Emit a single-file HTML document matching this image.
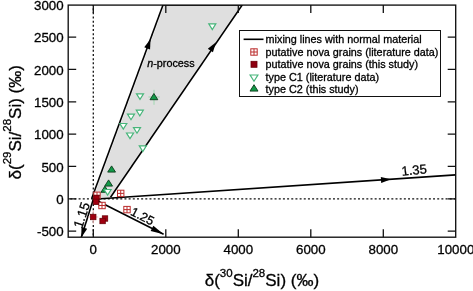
<!DOCTYPE html><html><head><meta charset="utf-8"><style>html,body{margin:0;padding:0;background:#fff;width:473px;height:291px;overflow:hidden}svg{display:block;will-change:transform;font-family:"Liberation Sans",sans-serif}text{stroke:#000;stroke-width:0.3px}</style></head><body>
<svg width="473" height="291" viewBox="0 0 473 291">
<defs><clipPath id="pc"><rect x="68.2" y="5.1" width="387.5" height="232.1"/></clipPath></defs>
<g clip-path="url(#pc)">
<polygon points="92.9,198.8 164.3,5 240.9,5 109.2,197.3" fill="#dfdfdf"/>
<line x1="68.2" y1="198.8" x2="455.7" y2="198.8" stroke="#111" stroke-width="1.3" stroke-dasharray="2 2.17" stroke-dashoffset="2.12"/>
<line x1="93.3" y1="5.1" x2="93.3" y2="237.2" stroke="#111" stroke-width="1.3" stroke-dasharray="2 2.17" stroke-dashoffset="1.14"/>
<line x1="91.6" y1="198.8" x2="163.0" y2="5" stroke="#000" stroke-width="1.6"/>
<line x1="110.5" y1="197.3" x2="242.2" y2="5" stroke="#000" stroke-width="1.6"/>
<line x1="163" y1="5.1" x2="242.2" y2="5.1" stroke="#000" stroke-width="1.4"/>
<line x1="93.3" y1="199.2" x2="455.7" y2="174.9" stroke="#000" stroke-width="1.6"/>
<line x1="93.3" y1="198.8" x2="163.6" y2="234.3" stroke="#000" stroke-width="1.6"/>
<line x1="93.5" y1="198.8" x2="81.3" y2="237.2" stroke="#000" stroke-width="1.6"/>
<polygon points="150.60,39.00 150.05,49.46 144.23,47.31" fill="#000"/>
<polygon points="216.00,42.30 212.91,52.30 207.79,48.80" fill="#000"/>
<polygon points="391.00,179.30 381.22,182.95 380.82,176.97" fill="#000"/>
<polygon points="163.60,234.30 150.64,231.12 153.35,225.76" fill="#000"/>
<polygon points="81.30,237.40 81.47,226.96 87.19,228.78" fill="#000"/>
</g>
<rect x="68.2" y="5.1" width="387.5" height="232.1" fill="none" stroke="#111" stroke-width="1.35"/>
<path d="M68.2,37.13h8M455.7,37.13h-8M68.2,69.47h8M455.7,69.47h-8M68.2,101.80h8M455.7,101.80h-8M68.2,134.13h8M455.7,134.13h-8M68.2,166.47h8M455.7,166.47h-8M68.2,198.80h8M455.7,198.80h-8M68.2,231.13h8M455.7,231.13h-8M93.30,237.2v-8M93.30,5.1v8M165.80,237.2v-8M165.80,5.1v8M238.30,237.2v-8M238.30,5.1v8M310.80,237.2v-8M310.80,5.1v8M383.30,237.2v-8M383.30,5.1v8" stroke="#111" stroke-width="1.3" fill="none"/>
<text x="63.6" y="9.90" font-size="13.3" text-anchor="end">3000</text>
<text x="63.6" y="42.23" font-size="13.3" text-anchor="end">2500</text>
<text x="63.6" y="74.57" font-size="13.3" text-anchor="end">2000</text>
<text x="63.6" y="106.90" font-size="13.3" text-anchor="end">1500</text>
<text x="63.6" y="139.23" font-size="13.3" text-anchor="end">1000</text>
<text x="63.6" y="171.57" font-size="13.3" text-anchor="end">500</text>
<text x="63.6" y="203.90" font-size="13.3" text-anchor="end">0</text>
<text x="63.6" y="236.23" font-size="13.3" text-anchor="end">-500</text>
<text x="93.30" y="254.4" font-size="13.3" text-anchor="middle">0</text>
<text x="165.80" y="254.4" font-size="13.3" text-anchor="middle">2000</text>
<text x="238.30" y="254.4" font-size="13.3" text-anchor="middle">4000</text>
<text x="310.80" y="254.4" font-size="13.3" text-anchor="middle">6000</text>
<text x="383.30" y="254.4" font-size="13.3" text-anchor="middle">8000</text>
<text x="455.80" y="254.4" font-size="13.3" text-anchor="middle">10000</text>
<text x="261.9" y="286.4" font-size="17" text-anchor="middle">δ(<tspan font-size="11.5" dy="-9.3">30</tspan><tspan dy="9.3">Si/</tspan><tspan font-size="11.5" dy="-9.3">28</tspan><tspan dy="9.3">Si) (‰)</tspan></text>
<text transform="translate(20.7,122.3) rotate(-90)" x="0" y="0" font-size="17" text-anchor="middle">δ(<tspan font-size="11.5" dy="-9.3">29</tspan><tspan dy="9.3">Si/</tspan><tspan font-size="11.5" dy="-9.3">28</tspan><tspan dy="9.3">Si) (‰)</tspan></text>
<text x="147.2" y="66.9" font-size="10.8"><tspan font-style="italic">n</tspan>-process</text>
<text transform="translate(402,175.8) rotate(-6)" font-size="13">1.35</text>
<text transform="translate(129.8,214.6) rotate(27)" font-size="12.4">1.25</text>
<text transform="translate(81.9,229) rotate(-71.5)" font-size="13.5">1.15</text>
<g stroke="#bb2c2c" stroke-width="1" fill="#fff"><rect x="117.50" y="190.20" width="6.4" height="6.4"/><path d="M120.70,190.20v6.4M117.50,193.40h6.4"/></g>
<g stroke="#bb2c2c" stroke-width="1" fill="#fff"><rect x="123.80" y="206.40" width="6.4" height="6.4"/><path d="M127.00,206.40v6.4M123.80,209.60h6.4"/></g>
<g stroke="#bb2c2c" stroke-width="1" fill="#fff"><rect x="98.80" y="202.30" width="6.4" height="6.4"/><path d="M102.00,202.30v6.4M98.80,205.50h6.4"/></g>
<g stroke="#bb2c2c" stroke-width="1" fill="#fff"><rect x="93.80" y="192.10" width="6.4" height="6.4"/><path d="M97.00,192.10v6.4M93.80,195.30h6.4"/></g>
<path d="M93.25,210.5V223.5M88.3,217H98.2" stroke="#f3b8b8" stroke-width="1"/>
<rect x="93.80" y="195.30" width="5.4" height="5.4" fill="#a00010" stroke="#6a0008" stroke-width="0.8"/>
<rect x="93.30" y="199.10" width="5.4" height="5.4" fill="#a00010" stroke="#6a0008" stroke-width="0.8"/>
<rect x="90.55" y="214.30" width="5.4" height="5.4" fill="#a00010" stroke="#6a0008" stroke-width="0.8"/>
<rect x="102.30" y="215.80" width="5.4" height="5.4" fill="#a00010" stroke="#6a0008" stroke-width="0.8"/>
<rect x="99.90" y="218.30" width="5.4" height="5.4" fill="#a00010" stroke="#6a0008" stroke-width="0.8"/>
<path d="M154,89.8V104.8M148.4,97H159.8" stroke="#9fd8b0" stroke-width="1"/>
<polygon points="150.00,99.70 157.80,99.70 153.90,93.50" fill="#129a48" stroke="#0a3a1a" stroke-width="0.9"/>
<polygon points="107.70,172.10 115.50,172.10 111.60,165.90" fill="#129a48" stroke="#0a3a1a" stroke-width="0.9"/>
<polygon points="104.70,186.10 112.50,186.10 108.60,179.90" fill="#129a48" stroke="#0a3a1a" stroke-width="0.9"/>
<polygon points="101.00,192.30 108.80,192.30 104.90,186.10" fill="#129a48" stroke="#0a3a1a" stroke-width="0.9"/>
<polygon points="136.50,93.80 143.50,93.80 140.00,99.40" fill="#fff" stroke="#47b57a" stroke-width="1.2"/>
<polygon points="136.30,110.20 143.30,110.20 139.80,115.80" fill="#fff" stroke="#47b57a" stroke-width="1.2"/>
<polygon points="127.50,114.10 134.50,114.10 131.00,119.70" fill="#fff" stroke="#47b57a" stroke-width="1.2"/>
<polygon points="119.80,123.50 126.80,123.50 123.30,129.10" fill="#fff" stroke="#47b57a" stroke-width="1.2"/>
<polygon points="133.50,127.60 140.50,127.60 137.00,133.20" fill="#fff" stroke="#47b57a" stroke-width="1.2"/>
<polygon points="126.50,133.00 133.50,133.00 130.00,138.60" fill="#fff" stroke="#47b57a" stroke-width="1.2"/>
<polygon points="139.30,145.90 146.30,145.90 142.80,151.50" fill="#fff" stroke="#47b57a" stroke-width="1.2"/>
<polygon points="208.80,23.90 215.80,23.90 212.30,29.50" fill="#fff" stroke="#47b57a" stroke-width="1.2"/>
<polygon points="104.10,189.50 111.10,189.50 107.60,195.10" fill="#fff" stroke="#47b57a" stroke-width="1.2"/>
<rect x="239.5" y="30.5" width="201" height="66" fill="#fff" stroke="#111" stroke-width="1"/>
<line x1="243.6" y1="39.3" x2="263.5" y2="39.3" stroke="#000" stroke-width="1.6"/>
<text x="265.6" y="43.30" font-size="10.8">mixing lines with normal material</text>
<text x="265.6" y="55.70" font-size="10.8">putative nova grains (literature data)</text>
<text x="265.6" y="68.10" font-size="10.8">putative nova grains (this study)</text>
<text x="265.6" y="80.50" font-size="10.8">type C1 (literature data)</text>
<text x="265.6" y="92.90" font-size="10.8">type C2 (this study)</text>
<g stroke="#bb2c2c" stroke-width="1" fill="#fff"><rect x="250.80" y="48.80" width="6.4" height="6.4"/><path d="M254.00,48.80v6.4M250.80,52.00h6.4"/></g>
<rect x="251.00" y="61.30" width="6" height="6" fill="#8e0010" stroke="#6a0008" stroke-width="0.8"/>
<polygon points="250.10,75.00 257.90,75.00 254.00,81.20" fill="#fff" stroke="#47b57a" stroke-width="1.2"/>
<polygon points="250.00,91.10 258.00,91.10 254.00,84.70" fill="#129a48" stroke="#0a3a1a" stroke-width="0.9"/>
</svg></body></html>
